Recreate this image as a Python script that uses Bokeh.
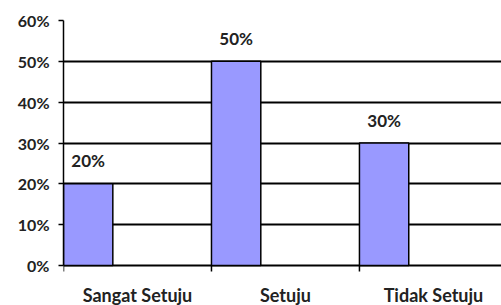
from bokeh.plotting import figure
from bokeh.models import Range1d, FixedTicker, ColumnDataSource, NumeralTickFormatter
from bokeh.core.properties import value
from bokeh.embed import file_html
from bokeh.resources import INLINE

categories = ["Sangat Setuju", "Setuju", "Tidak Setuju"]
values = [0.20, 0.50, 0.30]
labels = ["20%", "50%", "30%"]
y_ticks = [0.0, 0.1, 0.2, 0.3, 0.4, 0.5, 0.6]

FONT = "Lato"
Y_MAX = 0.6
PX_PER_UNIT = 245 / Y_MAX          # plot height of the value area
Y_MIN = -40 / PX_PER_UNIT          # room below the zero line for category labels
TICK = 6 / PX_PER_UNIT             # length of the category tick marks

bar_w = 1 / 3
n = len(categories)
xs = [i + bar_w / 2 for i in range(n)]
centers = [i + 0.5 for i in range(n)]
bounds_x = [float(i) for i in range(n + 1)]
src = ColumnDataSource(dict(x=xs, top=values, label=labels))
cat_src = ColumnDataSource(dict(x=centers, y=[0] * n, name=categories))
tick_src = ColumnDataSource(dict(x=bounds_x, y0=[0] * (n + 1), y1=[-TICK] * (n + 1)))

p = figure(width=501, height=305, output_backend="svg", toolbar_location=None,
           x_range=Range1d(0, 2.96), y_range=Range1d(Y_MIN, Y_MAX),
           x_axis_location=None,
           min_border_left=63, min_border_right=0, min_border_top=20, min_border_bottom=0)
p.outline_line_color = None
p.background_fill_color = "white"
p.border_fill_color = "white"

p.vbar(x="x", top="top", width=bar_w, bottom=0, source=src,
       fill_color="#9999FF", line_color="black", line_width=1.5)
p.text(x="x", y="top", text="label", source=src, text_align="center",
       text_baseline="middle", y_offset=-23, text_font=value(FONT),
       text_font_style="bold", text_font_size="17px", text_color="#222222")

# category boundary tick marks below the zero line
p.segment(x0="x", y0="y0", x1="x", y1="y1", source=tick_src,
          line_color="black", line_width=1.5)

# category labels under the zero line
p.text(x="x", y="y", text="name", source=cat_src, text_align="center",
       text_baseline="middle", y_offset=29, text_font=value(FONT),
       text_font_style="bold", text_font_size="18px", text_color="#222222")

# y axis
p.yaxis.ticker = FixedTicker(ticks=y_ticks, minor_ticks=[])
p.yaxis.bounds = (0, Y_MAX)
p.yaxis.formatter = NumeralTickFormatter(format="0%")
p.yaxis.axis_line_color = "black"
p.yaxis.axis_line_width = 1.5
p.yaxis.major_tick_line_width = 1.5
p.yaxis.major_tick_in = 0
p.yaxis.major_tick_out = 5
p.yaxis.major_label_standoff = 9
p.yaxis.major_label_text_font = FONT
p.yaxis.major_label_text_font_style = "bold"
p.yaxis.major_label_text_font_size = "16px"
p.yaxis.major_label_text_color = "#222222"

p.xgrid.grid_line_color = None
p.ygrid.ticker = FixedTicker(ticks=y_ticks)
p.ygrid.grid_line_color = "black"
p.ygrid.grid_line_width = 1.8

open("out.html", "w").write(file_html(p, INLINE))
